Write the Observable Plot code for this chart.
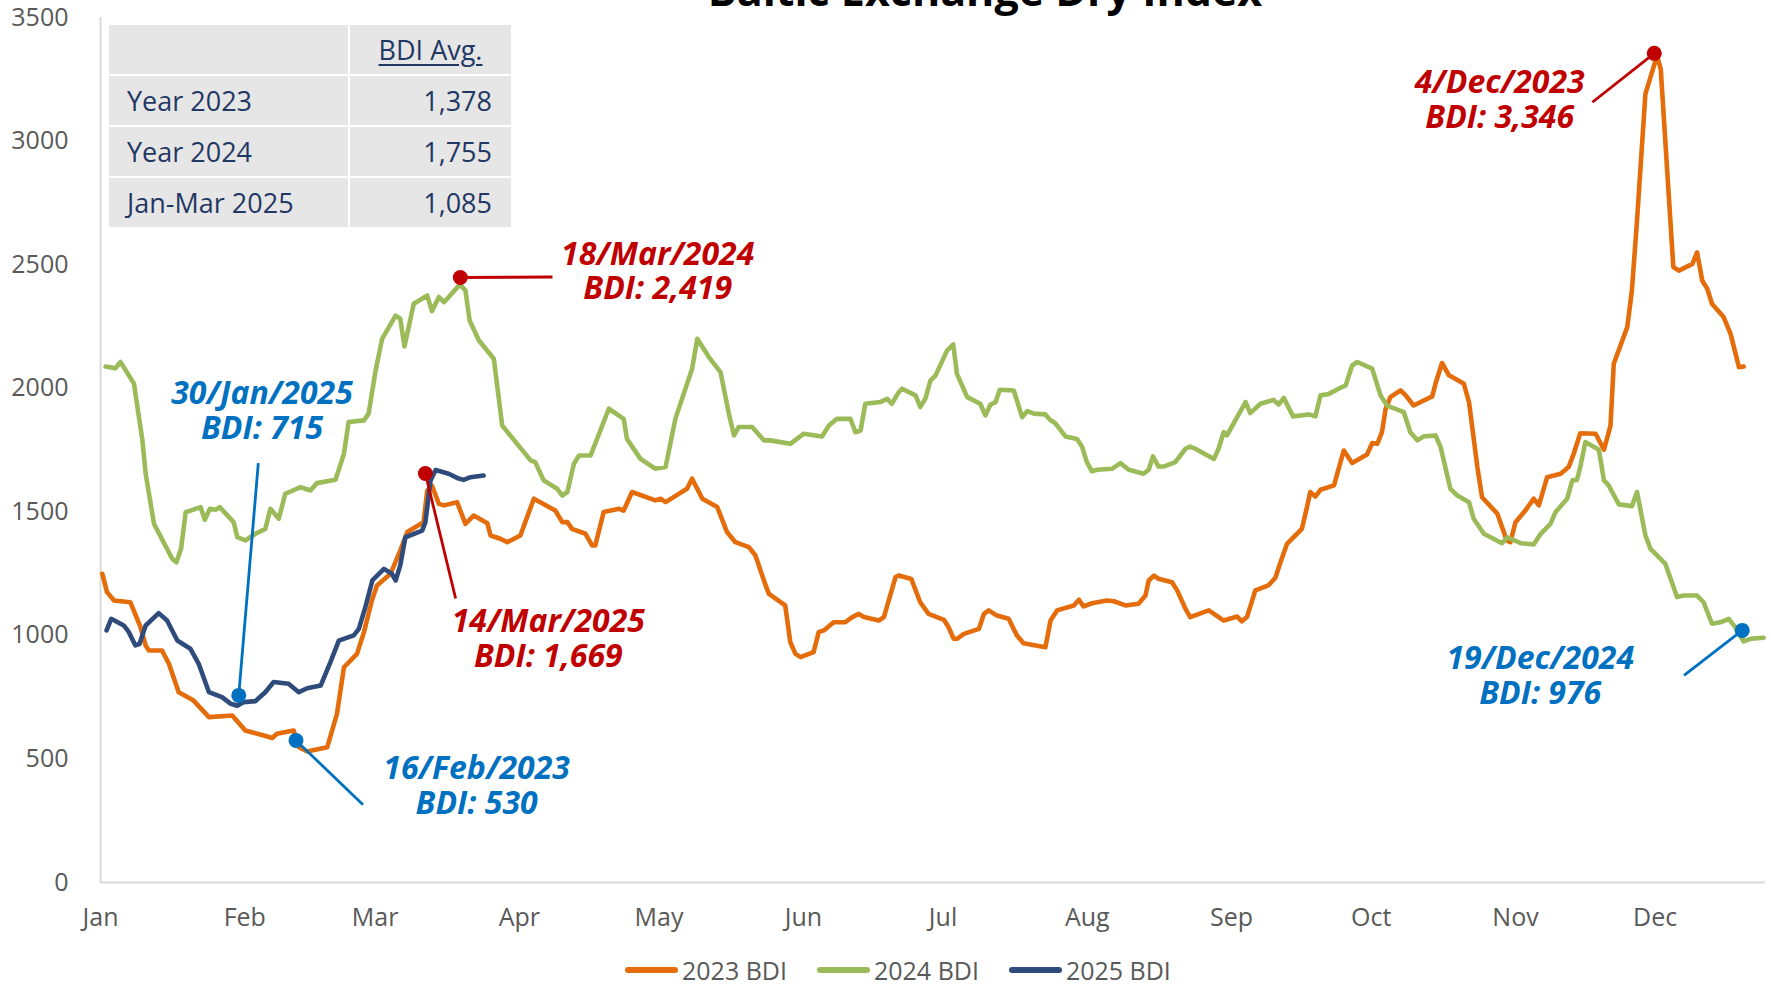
<!DOCTYPE html>
<html>
<head>
<meta charset="utf-8">
<script src="https://cdn.jsdelivr.net/npm/d3@7"></script>
<script src="https://cdn.jsdelivr.net/npm/@observablehq/plot@0.6"></script>
<style>
  html, body { margin: 0; padding: 0; background: #fff; overflow: hidden; }
  #wrap { position: relative; width: 1771px; height: 984px; font-family: "Open Sans", sans-serif; }
  #chart { position: absolute; left: 0; top: 0; }
  #title { position: absolute; left: 485px; width: 1000px; top: -32px; text-align: center;
           font-size: 43px; line-height: 43px; font-weight: bold; color: #000; white-space: nowrap; }
  #avg { position: absolute; left: 107px; top: 23px; border-collapse: separate; border-spacing: 2px;
         font-size: 27px; color: #1F3864; }
  #avg td { background: #E7E6E6; height: 49px; padding: 0; }
  #avg td.lab { width: 221px; padding-left: 18px; text-align: left; }
  #avg td.num { width: 142px; padding-right: 19px; text-align: right; }
  #avg td.head { width: 161px; text-align: center; text-decoration: underline; text-underline-offset: 4px; }
  #legend { position: absolute; left: 625px; top: 953px; display: flex; align-items: center;
            font-size: 25px; color: #595959; white-space: nowrap; }
  #legend .item { display: flex; align-items: center; margin-right: 30px; }
  #legend .sw { width: 53px; height: 6px; border-radius: 3px; margin-right: 4px; }
</style>
</head>
<body>
<div id="wrap">
  <div id="chart"></div>
  <div id="title">Baltic Exchange Dry Index</div>
  <table id="avg"></table>
  <div id="legend"></div>
</div>
<script>
// ---------- axis categories ----------
const months = ["Jan","Feb","Mar","Apr","May","Jun","Jul","Aug","Sep","Oct","Nov","Dec"];
const monthStart = [0,31,59,90,120,151,181,212,243,273,304,334]; // day of year
const yTicks = [0,500,1000,1500,2000,2500,3000,3500];

// ---------- series (day of year, BDI) ----------
const day2023 = [0.4,1.4,2.9,6.4,8.6,9.7,10.4,13.2,14.7,16.8,20,23.3,28.3,31.1,35.1,36.9,37.9,41.5,42.6,44.4,48.7,50.8,52.3,55.1,56.6,58.3,59.4,62.3,64.4,65.9,69.4,70.2,71.2,72.7,73.8,76.6,78.4,80.2,83.1,83.8,85.9,87.4,90.2,93.1,97.7,99.2,100.3,101.3,104.2,105.6,106.3,108.1,111.4,112.4,114.2,119.2,120.3,121.4,126,127.1,128.2,129.3,132.5,134.6,136.4,139.3,140.7,142.9,143.6,147.1,148.2,149.3,150.4,153.2,154.3,155.4,157.5,160,161.5,162.9,164,167.2,168.3,170.8,171.5,174.2,176.1,177.9,181.2,182.2,183.3,184,185.5,188.7,189.8,190.8,192.6,195.1,196.9,198.3,203,204.1,205.5,209.1,210.2,211.2,213,216.2,217.7,220.2,223,224.5,225.2,226.3,227.3,230.2,231.3,233.1,234.1,238.1,239.2,241.3,244.2,245.2,246.3,248.1,250.9,252.4,253.5,254.9,258.1,259.2,259.9,261,262.1,265,267.1,268.9,272.1,273.2,274.3,275.3,276.1,277.1,279.3,280.4,282.1,286.1,286.8,288.2,289.7,292.9,294,295.8,296.8,300.1,301.1,302.1,302.9,304,306.1,307.9,309,310.8,313.7,315.4,316.5,317.9,321.2,323,324.4,325.1,328,329,330.1,331.9,334.4,335.2,337.9,339.1,342,343,344.1,345.2,346.2,348.7,350.2,352,353];
const bdi2023 = [1249,1175,1141,1134,1033,959,939,939,885,770,736,669,676,615,595,585,602,615,547,530,547,682,871,925,1013,1141,1202,1249,1343,1418,1458,1586,1606,1532,1526,1539,1451,1485,1454,1404,1391,1377,1404,1553,1505,1458,1458,1431,1411,1364,1364,1499,1512,1505,1580,1546,1553,1539,1593,1634,1593,1553,1519,1418,1377,1357,1323,1202,1168,1121,972,925,912,932,1013,1020,1053,1053,1074,1087,1074,1060,1074,1236,1242,1228,1134,1087,1063,1033,986,986,1006,1026,1087,1101,1080,1067,999,968,952,1060,1101,1121,1144,1117,1130,1141,1138,1121,1128,1161,1222,1242,1229,1215,1182,1107,1074,1101,1087,1060,1076,1057,1074,1182,1202,1233,1296,1370,1431,1519,1580,1562,1589,1607,1748,1697,1732,1778,1775,1822,1917,1964,1991,1971,1930,1967,2018,2102,2052,2018,1944,1681,1559,1492,1438,1384,1377,1458,1505,1553,1526,1640,1654,1681,1735,1818,1816,1751,1849,2099,2247,2396,2679,3191,3346,3290,2490,2476,2503,2550,2436,2402,2342,2288,2220,2085,2088];

const day2024 = [1.1,3.2,4.3,7.2,9,9.7,11.5,15.4,16.3,17.3,18.3,21.5,22.4,23.5,24.7,25.6,28.6,29.4,31.1,33.3,35.4,36.5,38.3,39.7,43,45.1,46.5,50.5,52.3,53.3,56.6,57.6,59.1,60.5,63.4,64.4,65.3,67.3,70.2,71.2,72.7,73.8,77.2,78.4,79.3,81.3,84.5,86.3,92.4,93.4,95.2,98.1,99.2,100.3,101.7,102.8,105.3,109.2,112.4,113.1,116,119.2,121.4,123.5,127.1,128.2,130.7,133.2,135,136.1,137.1,140,142.5,143.9,148.2,151.1,155,156.5,158.2,161.1,162.2,163.3,164.3,167.5,169,170,171.5,172.2,175.1,176.1,177.2,178.3,179.4,181.9,183.2,184,185.1,186.2,189,190.1,191.2,192.3,193.2,196.2,198,199.1,200.5,203,204.1,205.1,207.3,209.8,210.9,211.9,213,214.1,217.3,219.1,220.9,224.1,225.2,226.1,227.3,228.4,230.9,233.1,234.1,235.2,239.2,240.2,241.3,242,243.8,246,247,249.2,252,253.1,254.2,256.2,259.6,261,262.1,263.9,266,267.5,268.9,270,273.2,275,276.4,280,281.4,282.9,284.3,286.8,287.9,290,291.5,294,295,297.2,301.1,302.2,305.1,307.9,309.4,311.5,312.6,315.1,316.2,317.2,317.9,319,321.9,323,324,326.2,329,330.1,331.9,333,336.2,338.7,340.1,343,344.4,346.2,348,349.8,351.2,353,354.5,357.3];
const bdi2024 = [2088,2081,2106,2018,1789,1654,1451,1310,1296,1350,1498,1519,1468,1512,1508,1519,1458,1397,1384,1411,1431,1512,1472,1573,1600,1586,1616,1630,1735,1863,1870,1897,2072,2200,2294,2281,2169,2342,2375,2312,2369,2348,2419,2396,2274,2193,2119,1849,1708,1701,1627,1593,1566,1580,1694,1728,1728,1917,1876,1795,1714,1674,1681,1876,2079,2200,2126,2065,1897,1809,1843,1843,1789,1789,1775,1816,1805,1849,1876,1876,1822,1829,1937,1944,1957,1937,1984,1998,1971,1924,1957,2031,2052,2153,2177,2058,2011,1964,1937,1890,1934,1944,1994,1991,1883,1907,1897,1894,1870,1859,1805,1795,1762,1701,1664,1670,1674,1697,1670,1654,1670,1724,1683,1683,1701,1755,1764,1755,1714,1755,1822,1809,1870,1944,1899,1937,1953,1934,1961,1886,1894,1886,1971,1977,1998,2011,2092,2106,2079,1971,1930,1903,1822,1789,1805,1809,1762,1593,1566,1539,1472,1411,1373,1397,1373,1368,1411,1451,1499,1553,1627,1629,1681,1782,1751,1627,1607,1530,1523,1580,1404,1350,1289,1155,1161,1161,1134,1047,1053,1067,1033,976,986,990];

const day2025 = [1.3,2.3,5,6.1,7.5,8.4,9.7,12.5,14.3,16.5,19.3,21.1,23.3,26.1,28,29.4,30.8,33.3,35.4,37.2,40.4,42.6,44.4,47.3,49.4,51.2,54.4,55.5,56.9,58.4,60.9,62.6,63.4,64.4,65.5,69.1,69.8,70.9,72,74.8,76.6,78,79.5,82.3];
const bdi2025 = [1020,1067,1040,1013,959,966,1040,1090,1060,979,946,885,770,750,723,715,730,734,770,811,804,770,786,797,892,979,1000,1026,1114,1222,1269,1249,1222,1283,1397,1424,1458,1627,1669,1654,1637,1629,1640,1647];

// ---------- averages table ----------
const tablePeriods = ["Year 2023","Year 2024","Jan-Mar 2025"];
const tableAvg = [1378,1755,1085];

// ---------- annotations ----------
const noteDate  = ["18/Mar/2024","30/Jan/2025","16/Feb/2023","14/Mar/2025","4/Dec/2023","19/Dec/2024"];
const noteBdi   = ["2,419","715","530","1,669","3,346","976"];
const noteKind  = ["high","low","low","high","high","low"];
// marker point (day, BDI) and leader-line end / label centre in data units
const noteDotDay = [77.3,29.7,42.0,69.8,333.8,352.7];
const noteDotBdi = [2448,757,575,1655,3355,1020];
const noteEndDay = [97.1,33.9,56.4,76.3,320.5,340.2];
const noteEndBdi = [2450,1697,315,1149,3157,838];
const noteLabDay = [119.7,34.7,80.8,96.2,300.6,309.3];
const noteLabBdi = [2475,1910,393,989,3169,840];

// ---------- build ----------
const colors = {"2023 BDI": "#E46C0A", "2024 BDI": "#9BBB59", "2025 BDI": "#2F4B7C"};
const kindColor = {high: "#C00000", low: "#0070C0"};
const toRows = (days, vals) => days.map((d, i) => ({day: d, value: vals[i]}));
const s2023 = toRows(day2023, bdi2023);
const s2024 = toRows(day2024, bdi2024);
const s2025 = toRows(day2025, bdi2025);
const notes = noteDate.map((d, i) => ({
  date: d, bdi: noteBdi[i], kind: noteKind[i],
  x: noteDotDay[i], y: noteDotBdi[i], x2: noteEndDay[i], y2: noteEndBdi[i],
  lx: noteLabDay[i], ly: noteLabBdi[i]
}));

const lineOpts = {x: "day", y: "value", strokeWidth: 4.6, strokeLinejoin: "round", strokeLinecap: "round"};

const chart = Plot.plot({
  width: 1771,
  height: 945,
  marginLeft: 100,
  marginRight: 6,
  marginTop: 17,
  marginBottom: 63,
  style: {fontFamily: "'Open Sans', sans-serif", fontSize: "25px", color: "#595959", background: "transparent", overflow: "visible"},
  x: {type: "linear", domain: [0, 357.7], axis: null},
  y: {domain: [0, 3500], axis: null},
  marks: [
    Plot.ruleX([0], {stroke: "#D9D9D9", strokeWidth: 2}),
    Plot.ruleY([0], {stroke: "#D9D9D9", strokeWidth: 2}),
    Plot.axisY({ticks: yTicks, tickFormat: d => String(d), tickSize: 0, tickPadding: 32, fontSize: 25}),
    Plot.axisX({ticks: monthStart, tickFormat: d => months[monthStart.indexOf(d)], tickSize: 0, tickPadding: 26, fontSize: 25}),
    Plot.line(s2023, {...lineOpts, stroke: colors["2023 BDI"]}),
    Plot.line(s2024, {...lineOpts, stroke: colors["2024 BDI"]}),
    Plot.line(s2025, {...lineOpts, stroke: colors["2025 BDI"]}),
    Plot.link(notes, {x1: "x", y1: "y", x2: "x2", y2: "y2", stroke: d => kindColor[d.kind], strokeWidth: 2.8}),
    Plot.dot(notes, {x: "x", y: "y", r: 7.5, fill: d => kindColor[d.kind], stroke: "none"}),
    Plot.text(notes, {x: "lx", y: "ly", text: d => d.date + "\nBDI: " + d.bdi, fill: d => kindColor[d.kind],
      fontSize: 32, fontWeight: "bold", fontStyle: "italic", lineHeight: 1.09, textAnchor: "middle", lineAnchor: "middle"})
  ]
});
document.getElementById("chart").appendChild(chart);

// table
const tbl = document.getElementById("avg");
let html = '<tr><td class="lab"></td><td class="head">BDI Avg.</td></tr>';
tablePeriods.forEach((p, i) => {
  html += `<tr><td class="lab">${p}</td><td class="num">${d3.format(",")(tableAvg[i])}</td></tr>`;
});
tbl.innerHTML = html;

// legend
const leg = document.getElementById("legend");
Object.entries(colors).forEach(([name, c]) => {
  const it = document.createElement("div");
  it.className = "item";
  it.innerHTML = `<span class="sw" style="background:${c}"></span><span>${name}</span>`;
  leg.appendChild(it);
});
</script>
</body>
</html>
